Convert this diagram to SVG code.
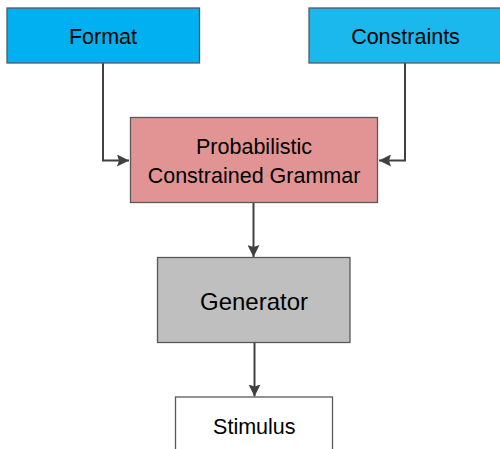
<svg xmlns="http://www.w3.org/2000/svg" width="500" height="449" viewBox="0 0 500 449">
  <style>
    .box { stroke: #595959; stroke-width: 1.3; }
    .lbl { font-family: "Liberation Sans", Arial, sans-serif; font-size: 21.5px; fill: #000; text-anchor: middle; }
    .wire { fill: none; stroke: #404040; stroke-width: 2; }
  </style>
  <defs>
    <marker id="arrow" viewBox="0 0 12 12" refX="12" refY="6" markerWidth="12" markerHeight="12" markerUnits="userSpaceOnUse" orient="auto">
      <path d="M0,0 L12,6 L0,12 L2,6 Z" fill="#404040"/>
    </marker>
  </defs>
  <rect width="500" height="449" fill="#ffffff"/>

  <g id="connectors">
    <path class="wire" d="M103,63 V160.5 H129" marker-end="url(#arrow)"/>
    <path class="wire" d="M405,63 V160.5 H379" marker-end="url(#arrow)"/>
    <path class="wire" d="M253.5,203 V257" marker-end="url(#arrow)"/>
    <path class="wire" d="M254.5,343 V396.5" marker-end="url(#arrow)"/>
  </g>

  <g id="format">
    <rect class="box" x="7" y="8" width="192.5" height="55" fill="#00B0F0"/>
    <text class="lbl" x="103" y="44.3">Format</text>
  </g>

  <g id="constraints">
    <rect class="box" x="309" y="8" width="200" height="55" fill="#1BB8EE"/>
    <text class="lbl" x="405.5" y="44.3">Constraints</text>
  </g>

  <g id="grammar">
    <rect class="box" x="130.5" y="117.5" width="247" height="85" fill="#E29494"/>
    <text class="lbl" x="254" y="154.3">Probabilistic</text>
    <text class="lbl" x="254" y="183.3">Constrained Grammar</text>
  </g>

  <g id="generator">
    <rect class="box" x="157.5" y="257.5" width="192.5" height="85" fill="#BFBFBF"/>
    <text class="lbl" x="254" y="310" style="font-size:24px">Generator</text>
  </g>

  <g id="stimulus">
    <rect class="box" x="175.5" y="397" width="157" height="70" fill="#ffffff"/>
    <text class="lbl" x="254.3" y="434">Stimulus</text>
  </g>
</svg>
